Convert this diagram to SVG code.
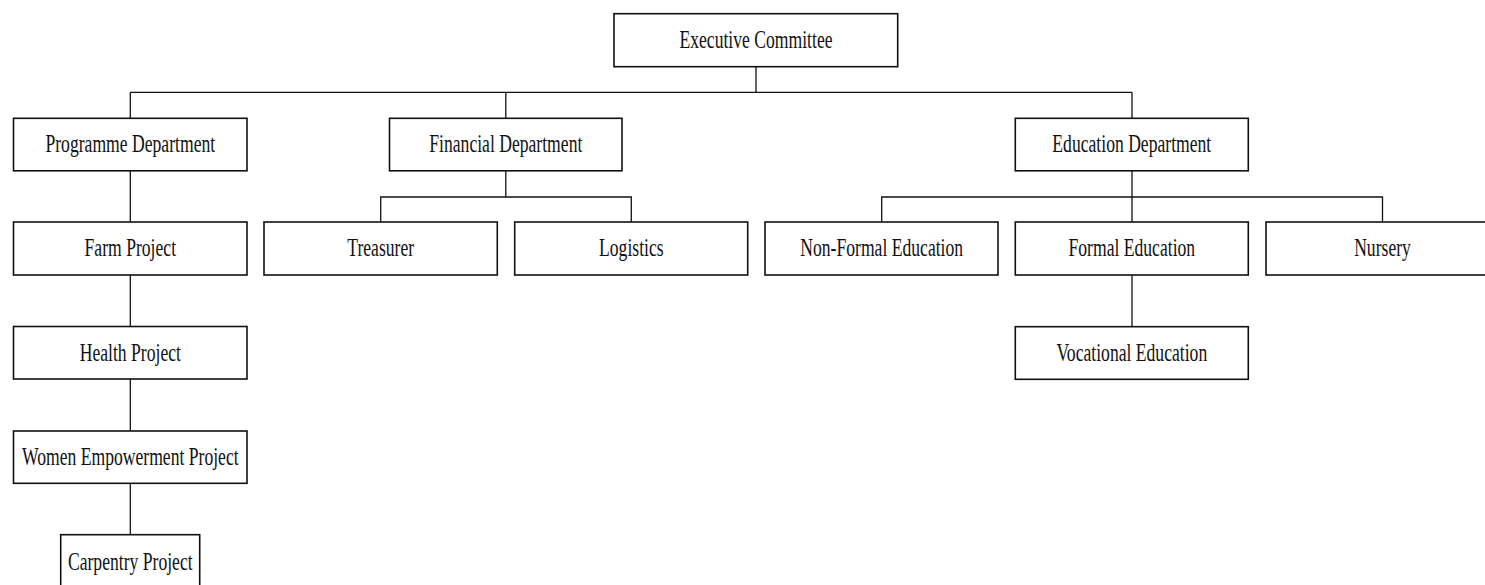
<svg xmlns="http://www.w3.org/2000/svg" width="1485" height="585" viewBox="0 0 1485 585">
<style>
.box{fill:#fff;stroke:#111;stroke-width:1.6}
.lbl{font-family:"Liberation Serif","Times New Roman",serif;font-size:25px;fill:#111;text-anchor:middle}
.ln{fill:none;stroke:#111;stroke-width:1.3}
</style>
<rect width="1485" height="585" fill="#fff"/>
<g id="connectors" class="ln">
<path d="M756 66.7V92.3M130.3 92.3H1132M130.3 92.3V118.3M505.8 92.3V118.3M1132 92.3V118.3"/>
<path d="M130.3 171V222M130.3 275V326.5M130.3 379V431M130.3 483.3V534.7"/>
<path d="M505.8 171V197M380.7 222V197H631.3V222"/>
<path d="M1132 171V222M881.7 222V197H1382.5V222M1132 275V326.7"/>
</g>
<g id="executive"><rect class="box" x="614" y="13.7" width="283.7" height="53"/><text class="lbl" transform="translate(756 48) scale(0.705 1)">Executive Committee</text></g>
<g id="programme"><rect class="box" x="13.5" y="118.3" width="233.5" height="52.5"/><text class="lbl" transform="translate(130.3 152.3) scale(0.705 1)">Programme Department</text></g>
<g id="financial"><rect class="box" x="389.5" y="118.3" width="232.5" height="52.5"/><text class="lbl" transform="translate(505.8 152.3) scale(0.705 1)">Financial Department</text></g>
<g id="education"><rect class="box" x="1015.3" y="118.3" width="233" height="52.5"/><text class="lbl" transform="translate(1131.8 152.3) scale(0.705 1)">Education Department</text></g>
<g id="farm"><rect class="box" x="13.5" y="222" width="233.5" height="53"/><text class="lbl" transform="translate(130.3 256) scale(0.705 1)">Farm Project</text></g>
<g id="treasurer"><rect class="box" x="264" y="222" width="233.3" height="53"/><text class="lbl" transform="translate(380.7 256) scale(0.705 1)">Treasurer</text></g>
<g id="logistics"><rect class="box" x="514.7" y="222" width="233" height="53"/><text class="lbl" transform="translate(631.3 256) scale(0.705 1)">Logistics</text></g>
<g id="nonformal"><rect class="box" x="765" y="222" width="233" height="53"/><text class="lbl" transform="translate(881.7 256) scale(0.705 1)">Non-Formal Education</text></g>
<g id="formal"><rect class="box" x="1015.3" y="222" width="233" height="53"/><text class="lbl" transform="translate(1131.8 256) scale(0.705 1)">Formal Education</text></g>
<g id="nursery"><rect class="box" x="1266" y="222" width="233" height="53"/><text class="lbl" transform="translate(1382.5 256) scale(0.705 1)">Nursery</text></g>
<g id="health"><rect class="box" x="13.5" y="326.5" width="233.5" height="52.5"/><text class="lbl" transform="translate(130.3 360.5) scale(0.705 1)">Health Project</text></g>
<g id="vocational"><rect class="box" x="1015.3" y="326.7" width="233" height="52.6"/><text class="lbl" transform="translate(1131.8 360.7) scale(0.705 1)">Vocational Education</text></g>
<g id="women"><rect class="box" x="13.5" y="431" width="233.5" height="52.3"/><text class="lbl" transform="translate(130.3 465) scale(0.705 1)">Women Empowerment Project</text></g>
<g id="carpentry"><rect class="box" x="60.7" y="534.7" width="139" height="60"/><text class="lbl" transform="translate(130.3 569.5) scale(0.705 1)">Carpentry Project</text></g>
</svg>
